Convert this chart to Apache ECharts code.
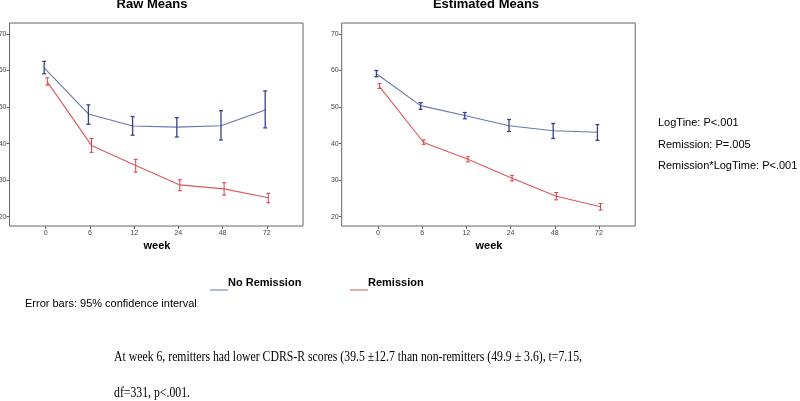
<!DOCTYPE html>
<html>
<head>
<meta charset="utf-8">
<script src="https://cdn.jsdelivr.net/npm/echarts@6/dist/echarts.min.js"></script>
<style>
html,body{margin:0;padding:0;background:#fff;}
#c{width:800px;height:401px;}
</style>
</head>
<body>
<div id="c"></div>
<script>
// ---- data ----
const weeks = ['0', '6', '12', '24', '48', '72'];
const yTicks = [20, 30, 40, 50, 60, 70];

const rawNoRem   = [60.7, 48.1, 44.8, 44.5, 44.9, 49.2];
const rawNoRemLo = [59.1, 45.3, 42.3, 41.8, 41.0, 44.3];
const rawNoRemHi = [62.5, 50.6, 47.4, 47.1, 49.0, 54.4];
const rawRem     = [56.9, 39.5, 34.0, 28.7, 27.6, 25.2];
const rawRemLo   = [56.0, 37.6, 32.2, 27.1, 25.9, 23.8];
const rawRemHi   = [58.0, 41.4, 35.7, 30.1, 29.3, 26.4];

const estNoRem   = [59.1, 50.4, 47.7, 44.9, 43.5, 43.1];
const estNoRemLo = [58.3, 49.4, 46.8, 43.3, 41.4, 40.9];
const estNoRemHi = [60.0, 51.2, 48.5, 46.6, 45.5, 45.2];
const estRem     = [55.6, 40.3, 35.7, 30.5, 25.6, 22.7];
const estRemLo   = [55.1, 39.8, 35.0, 29.8, 24.6, 21.8];
const estRemHi   = [56.4, 41.0, 36.4, 31.3, 26.6, 23.6];

const panelTitles = ['Raw Means', 'Estimated Means'];
const xName = 'week';
const seriesNames = ['No Remission', 'Remission'];
const statLines = ['LogTine: P<.001', 'Remission: P=.005', 'Remission*LogTime: P<.001'];
const footnote = 'Error bars: 95% confidence interval';
const bodyText = [
  'At week 6, remitters had lower CDRS-R scores (39.5 \u00B112.7 than non-remitters (49.9 \u00B1 3.6), t=7.15,',
  'df=331, p<.001.'
];

// ---- styling ----
const BLUE_LINE = '#6676b4';
const BLUE_BAR = '#34448c';
const RED_LINE = '#e0585c';
const RED_BAR = '#d8404a';
const DODGE = 0.035;
const idx = weeks.map((w, i) => i);

const chart = echarts.init(document.getElementById('c'), null, {renderer: 'canvas'});

function grid(left) {
  return {left: left, top: 23, width: 293.5, height: 203, show: true,
          containLabel: false, outerBoundsMode: 'none',
          borderColor: '#666', borderWidth: 1, backgroundColor: 'transparent'};
}
function xAxis(gi) {
  return {
    type: 'value', gridIndex: gi, min: -0.82, max: 5.82, position: 'bottom',
    axisLine: {show: false, onZero: false},
    splitLine: {show: false},
    axisTick: {show: true, customValues: idx, length: 3, inside: false, lineStyle: {color: '#666'}},
    axisLabel: {show: true, customValues: idx, margin: 4, fontSize: 7, color: '#444',
                fontFamily: 'Liberation Sans, Arial',
                formatter: v => weeks[Math.round(v)]}
  };
}
function yAxis(gi) {
  return {
    type: 'value', gridIndex: gi, min: 17.45, max: 73.0, position: 'left',
    axisLine: {show: false, onZero: false},
    splitLine: {show: false},
    axisTick: {show: true, customValues: yTicks, length: 3, lineStyle: {color: '#666'}},
    axisLabel: {show: true, customValues: yTicks, margin: 3, fontSize: 7, color: '#444',
                fontFamily: 'Liberation Sans, Arial'}
  };
}
function lineSeries(name, gi, vals, color, dodge) {
  return {
    name: name, type: 'line', xAxisIndex: gi, yAxisIndex: gi,
    data: vals.map((v, i) => [i + dodge, v]),
    symbol: 'none', lineStyle: {color: color, width: 1.1}, z: 2, animation: false
  };
}
function errSeries(gi, lo, hi, color, dodge, w) {
  return {
    type: 'custom', xAxisIndex: gi, yAxisIndex: gi,
    data: lo.map((l, i) => [i + dodge, l, hi[i]]),
    renderItem: function (params, api) {
      const x = api.value(0);
      const pLo = api.coord([x, api.value(1)]);
      const pHi = api.coord([x, api.value(2)]);
      const c = 2;
      const st = {stroke: color, lineWidth: w, fill: null};
      return {type: 'group', children: [
        {type: 'line', shape: {x1: pLo[0], y1: pLo[1], x2: pHi[0], y2: pHi[1]}, style: st},
        {type: 'line', shape: {x1: pLo[0] - c, y1: pLo[1], x2: pLo[0] + c, y2: pLo[1]}, style: st},
        {type: 'line', shape: {x1: pHi[0] - c, y1: pHi[1], x2: pHi[0] + c, y2: pHi[1]}, style: st}
      ]};
    },
    z: 3, animation: false
  };
}

const sans = 'Liberation Sans, Arial, sans-serif';
const serif = 'Liberation Serif, Times New Roman, serif';

const graphics = [
  {type: 'text', x: 152, y: 4, style: {text: panelTitles[0], font: 'bold 13px ' + sans, fill: '#000', align: 'center', verticalAlign: 'middle'}},
  {type: 'text', x: 486, y: 4, style: {text: panelTitles[1], font: 'bold 13px ' + sans, fill: '#000', align: 'center', verticalAlign: 'middle'}},
  {type: 'text', x: 157, y: 246, style: {text: xName, font: 'bold 11px ' + sans, fill: '#000', align: 'center', verticalAlign: 'middle'}},
  {type: 'text', x: 489, y: 246, style: {text: xName, font: 'bold 11px ' + sans, fill: '#000', align: 'center', verticalAlign: 'middle'}},
  // legend
  {type: 'line', shape: {x1: 210, y1: 290, x2: 228, y2: 290}, style: {stroke: BLUE_LINE, lineWidth: 1}},
  {type: 'text', x: 228, y: 283, style: {text: seriesNames[0], font: 'bold 11px ' + sans, fill: '#000', align: 'left', verticalAlign: 'middle'}},
  {type: 'line', shape: {x1: 350, y1: 290, x2: 368, y2: 290}, style: {stroke: RED_LINE, lineWidth: 1}},
  {type: 'text', x: 368, y: 283, style: {text: seriesNames[1], font: 'bold 11px ' + sans, fill: '#000', align: 'left', verticalAlign: 'middle'}},
  {type: 'text', x: 25, y: 304, style: {text: footnote, font: '11px ' + sans, fill: '#000', align: 'left', verticalAlign: 'middle'}}
];
statLines.forEach((t, i) => {
  graphics.push({type: 'text', x: 658, y: 123 + i * 21.5, style: {text: t, font: '11px ' + sans, fill: '#000', align: 'left', verticalAlign: 'middle'}});
});
bodyText.forEach((t, i) => {
  graphics.push({type: 'text', x: 114, y: 357 + i * 36, scaleX: 0.84,
    style: {text: t, font: '14px ' + serif, fill: '#000', align: 'left', verticalAlign: 'middle'}});
});

chart.setOption({
  animation: false,
  backgroundColor: '#fff',
  grid: [grid(9.5), grid(341.7)],
  xAxis: [xAxis(0), xAxis(1)],
  yAxis: [yAxis(0), yAxis(1)],
  series: [
    lineSeries(seriesNames[0], 0, rawNoRem, BLUE_LINE, -DODGE),
    lineSeries(seriesNames[1], 0, rawRem, RED_LINE, DODGE),
    errSeries(0, rawNoRemLo, rawNoRemHi, BLUE_BAR, -DODGE, 1.3),
    errSeries(0, rawRemLo, rawRemHi, RED_BAR, DODGE, 1),
    lineSeries(seriesNames[0], 1, estNoRem, BLUE_LINE, -DODGE),
    lineSeries(seriesNames[1], 1, estRem, RED_LINE, DODGE),
    errSeries(1, estNoRemLo, estNoRemHi, BLUE_BAR, -DODGE, 1.3),
    errSeries(1, estRemLo, estRemHi, RED_BAR, DODGE, 1)
  ],
  graphic: graphics
});
</script>
</body>
</html>
